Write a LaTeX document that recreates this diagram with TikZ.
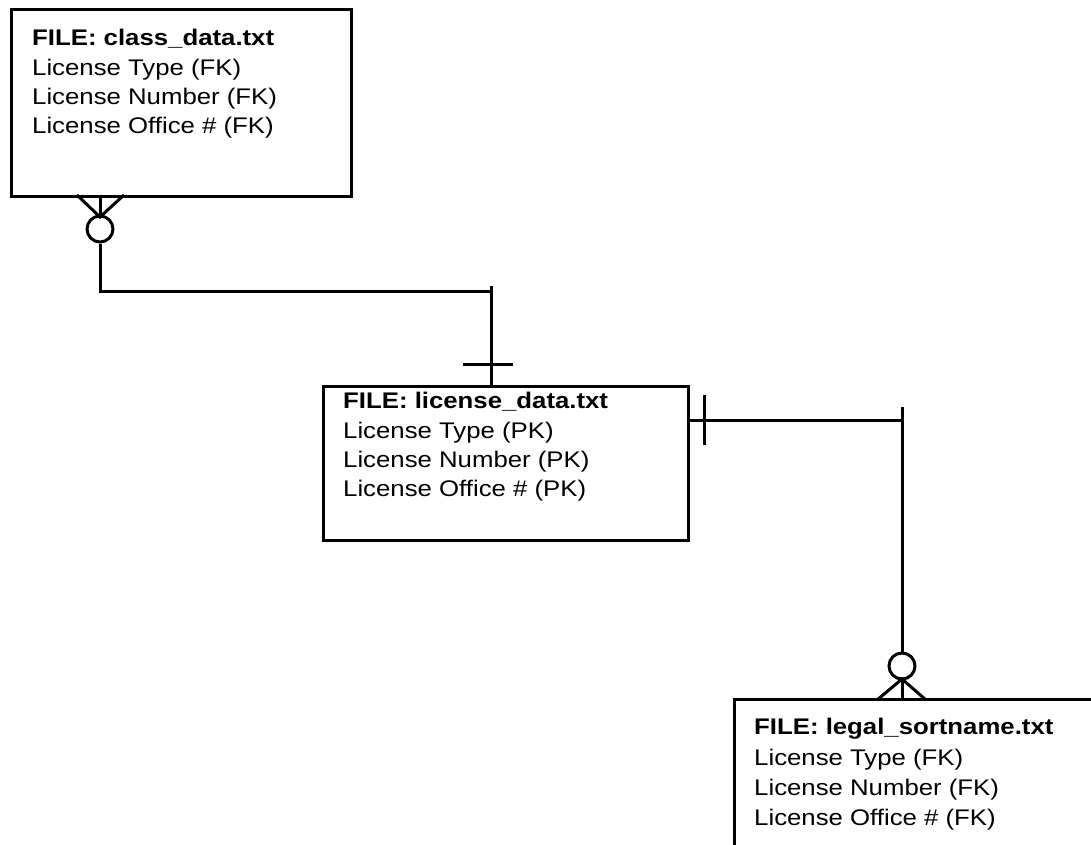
\documentclass[tikz,border=0pt]{standalone}
\usepackage{fontspec}
\setmainfont{Liberation Sans}[FakeStretch=1.14]
\tikzset{
  erbox/.style={draw, line width=3pt, rectangle, inner sep=0pt, anchor=north west},
  rel/.style={line width=3pt},
  txt/.style={anchor=base west, inner sep=0pt, font=\fontsize{22.6}{30}\selectfont},
  hdr/.style={txt, font=\fontsize{22.6}{30}\selectfont\bfseries},
}
\begin{document}
\begin{tikzpicture}[x=1pt, y=-1pt]
\useasboundingbox (0,0) rectangle (1091,844);
\fill[white] (0,0) rectangle (1091,844);
\clip (0,0) rectangle (1091,844);

% boxes
\node[erbox, minimum width=340pt, minimum height=187pt] (b1) at (10,8) {};
\node[erbox, minimum width=365pt, minimum height=154pt] (b2) at (322,385) {};
\node[erbox, minimum width=400pt, minimum height=200pt] (b3) at (733,698) {};

% texts box 1
\node[hdr] (b1t0) at (32,45) {FILE: class\_data.txt};
\node[txt] (b1t1) at (32,75) {License Type (FK)};
\node[txt] (b1t2) at (32,104) {License Number (FK)};
\node[txt] (b1t3) at (32,133) {License Office \# (FK)};

% texts box 2
\node[hdr] (b2t0) at (343,408) {FILE: license\_data.txt};
\node[txt] (b2t1) at (343,438) {License Type (PK)};
\node[txt] (b2t2) at (343,467) {License Number (PK)};
\node[txt] (b2t3) at (343,496) {License Office \# (PK)};

% texts box 3
\node[hdr] (b3t0) at (754,734) {FILE: legal\_sortname.txt};
\node[txt] (b3t1) at (754,765) {License Type (FK)};
\node[txt] (b3t2) at (754,795) {License Number (FK)};
\node[txt] (b3t3) at (754,825) {License Office \# (FK)};

% connector 1: class_data (many, optional) -- license_data (one)
\coordinate (c1a) at (b1.south west -| 100,0);
\coordinate (c1m) at (100,217);
\node[draw, circle, line width=3pt, minimum size=26pt, inner sep=0pt] (o1) at (100,229) {};
\draw[rel] (77,195) -- (c1m) -- (124,195);
\draw[rel] (c1a) -- (c1m);
\coordinate (k1) at (491,291);
\coordinate (k1t) at (491,286);
\draw[rel] (o1.south) |- (k1);
\draw[rel] (k1t) -- (b2.north -| k1t);
\coordinate (tick1l) at (463,364);
\coordinate (tick1r) at (513,364);
\draw[rel] (tick1l) -- (tick1r);

% connector 2: license_data (one) -- legal_sortname (many, optional)
\coordinate (k2) at (902,420);
\coordinate (k2t) at (902,407);
\draw[rel] (b2.east |- k2) ++(-3,0) -- (k2);
\coordinate (tick2t) at (704,395);
\coordinate (tick2b) at (704,445);
\draw[rel] (tick2t) -- (tick2b);
\node[draw, circle, line width=3pt, minimum size=26pt, inner sep=0pt] (o2) at (902,666) {};
\draw[rel] (k2t) -- (o2.north);
\coordinate (c2m) at (902,679);
\draw[rel] (877,700) -- (c2m) -- (926,700);
\draw[rel] (c2m) -- (b3.north -| c2m);
\end{tikzpicture}
\end{document}
